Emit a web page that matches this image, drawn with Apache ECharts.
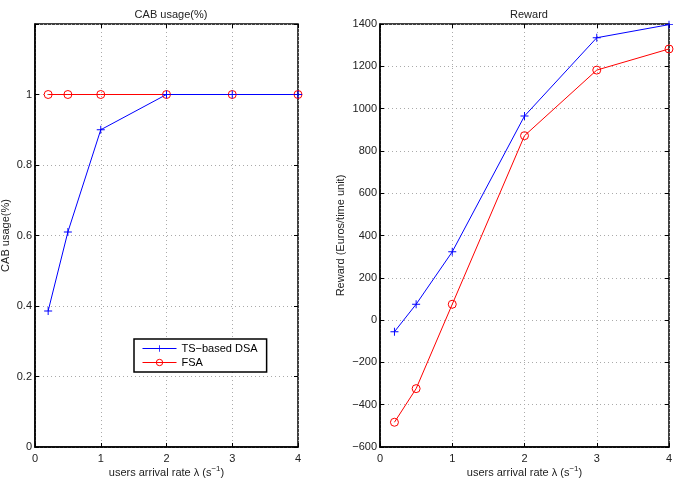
<!DOCTYPE html>
<html>
<head>
<meta charset="utf-8">
<script src="https://cdn.jsdelivr.net/npm/echarts@6/dist/echarts.min.js"></script>
<style>
    html, body { margin: 0; padding: 0; background: #fff; }
    #chart { width: 676px; height: 479px; }
</style>
</head>
<body>
<div id="chart"></div>
<script>
var rates = [0.2, 0.5, 1, 2, 3, 4];
var xTicks = [0, 1, 2, 3, 4];
var cabDsa = [0.386, 0.61, 0.90, 1, 1, 1];
var cabFsa = [1, 1, 1, 1, 1, 1];
var rewardDsa = [-55, 75, 323, 965, 1335, 1397];
var rewardFsa = [-483, -324, 75, 872, 1182, 1282];

var plusIcon = 'path://M4.4,0H5.6V4.4H10V5.6H5.6V10H4.4V5.6H0V4.4H4.4Z';
var font = 'Liberation Sans, Arial, sans-serif';
var fs = 11;

function pairs(xs, ys) {
    return xs.map(function (x, i) { return [x, ys[i]]; });
}

var xName = '{t|users arrival rate λ (s}{s|−1}{t|)}';
var xRich = {
    t: { fontSize: fs, fontFamily: font, color: '#222' },
    s: { fontSize: 8, fontFamily: font, color: '#222', verticalAlign: 'bottom', padding: [0, 0, 7, 0] }
};

var tick = { inside: true, length: 4, lineStyle: { color: '#000' } };
var grid = { show: true, lineStyle: { color: '#aaa', type: [1, 3] } };

function xAxisFor(idx) {
    return {
        type: 'value', gridIndex: idx, min: xTicks[0], max: xTicks[xTicks.length - 1], interval: 1,
        name: xName, nameLocation: 'middle', nameGap: 18, nameMoveOverlap: false,
        nameTextStyle: { rich: xRich },
        axisLine: { onZero: false, lineStyle: { color: '#000', width: 1.5 } },
        axisTick: tick,
        axisLabel: { fontSize: fs, fontFamily: font, color: '#222', margin: 6 },
        splitLine: grid
    };
}
function topAxisFor(idx) {
    return {
        type: 'value', gridIndex: idx, position: 'top', min: 0, max: 4, interval: 1,
        axisLine: { show: false, onZero: false },
        axisTick: { show: true, inside: true, length: 4, lineStyle: { color: '#000' } },
        axisLabel: { show: false }, splitLine: { show: false }
    };
}
function rightAxisFor(idx, lo, hi, step) {
    return {
        type: 'value', gridIndex: idx, position: 'right', min: lo, max: hi, interval: step,
        axisLine: { show: false, onZero: false },
        axisTick: { show: true, inside: true, length: 4, lineStyle: { color: '#000' } },
        axisLabel: { show: false }, splitLine: { show: false }
    };
}

var option = {
    backgroundColor: '#fff',
    animation: false,
    title: [
        { text: 'CAB usage(%)', left: 166, top: 4, textAlign: 'center',
          textStyle: { fontSize: fs, fontWeight: 'normal', fontFamily: font, color: '#222' } },
        { text: 'Reward', left: 524, top: 4, textAlign: 'center',
          textStyle: { fontSize: fs, fontWeight: 'normal', fontFamily: font, color: '#222' } }
    ],
    legend: {
        left: 134, top: 339, orient: 'vertical',
        itemWidth: 34, itemHeight: 8, itemGap: 3,
        padding: [4, 9, 4, 8],
        backgroundColor: '#fff',
        borderColor: '#000', borderWidth: 1.5, borderRadius: 0,
        itemStyle: { borderWidth: 1 },
        lineStyle: { width: 1, color: 'inherit' },
        textStyle: { fontSize: fs, fontFamily: font, color: '#000' },
        data: ['TS\u2212based DSA', 'FSA']
    },
    grid: [
        { left: 35, right: 378, top: 24, bottom: 32, outerBoundsMode: 'none',
          show: true, borderColor: '#000', borderWidth: 1.5 },
        { left: 380, right: 7, top: 24, bottom: 32, outerBoundsMode: 'none',
          show: true, borderColor: '#000', borderWidth: 1.5 }
    ],
    xAxis: [xAxisFor(0), xAxisFor(1), topAxisFor(0), topAxisFor(1)],
    yAxis: [
        {
            type: 'value', gridIndex: 0, min: 0, max: 1.2, interval: 0.2,
            name: 'CAB usage(%)', nameLocation: 'middle', nameGap: 24,
            nameTextStyle: { fontSize: fs, fontFamily: font, color: '#222' },
            axisLine: { onZero: false, lineStyle: { color: '#000', width: 1.5 } },
            axisTick: tick,
            axisLabel: { fontSize: fs, fontFamily: font, color: '#222', margin: 3,
                formatter: function (v) { return v > 1.1 ? '' : String(Math.round(v * 10) / 10); } },
            splitLine: grid
        },
        {
            type: 'value', gridIndex: 1, min: -600, max: 1400, interval: 200,
            name: 'Reward (Euros/time unit)', nameLocation: 'middle', nameGap: 34,
            nameTextStyle: { fontSize: fs, fontFamily: font, color: '#222' },
            axisLine: { onZero: false, lineStyle: { color: '#000', width: 1.5 } },
            axisTick: tick,
            axisLabel: { fontSize: fs, fontFamily: font, color: '#222', margin: 3,
                formatter: function (v) { return String(v).replace('-', '\u2212'); } },
            splitLine: grid
        },
        rightAxisFor(0, 0, 1.2, 0.2),
        rightAxisFor(1, -600, 1400, 200)
    ],
    series: [
        {
            name: 'FSA', type: 'line', xAxisIndex: 0, yAxisIndex: 0,
            data: pairs(rates, cabFsa),
            symbol: 'circle', symbolSize: 8,
            lineStyle: { color: '#ff0000', width: 1 },
            itemStyle: { color: 'transparent', borderColor: '#ff0000', borderWidth: 1 }
        },
        {
            name: 'TS\u2212based DSA', type: 'line', xAxisIndex: 0, yAxisIndex: 0,
            data: pairs(rates, cabDsa),
            symbol: plusIcon, symbolSize: 8,
            lineStyle: { color: '#0000ff', width: 1 },
            itemStyle: { color: '#0000ff' }
        },
        {
            name: 'TS\u2212based DSA', type: 'line', xAxisIndex: 1, yAxisIndex: 1,
            data: pairs(rates, rewardDsa),
            symbol: plusIcon, symbolSize: 8,
            lineStyle: { color: '#0000ff', width: 1 },
            itemStyle: { color: '#0000ff' }
        },
        {
            name: 'FSA', type: 'line', xAxisIndex: 1, yAxisIndex: 1,
            data: pairs(rates, rewardFsa),
            symbol: 'circle', symbolSize: 8,
            lineStyle: { color: '#ff0000', width: 1 },
            itemStyle: { color: 'transparent', borderColor: '#ff0000', borderWidth: 1 }
        }
    ]
};

var myChart = echarts.init(document.getElementById('chart'));
myChart.setOption(option);
</script>
</body>
</html>
